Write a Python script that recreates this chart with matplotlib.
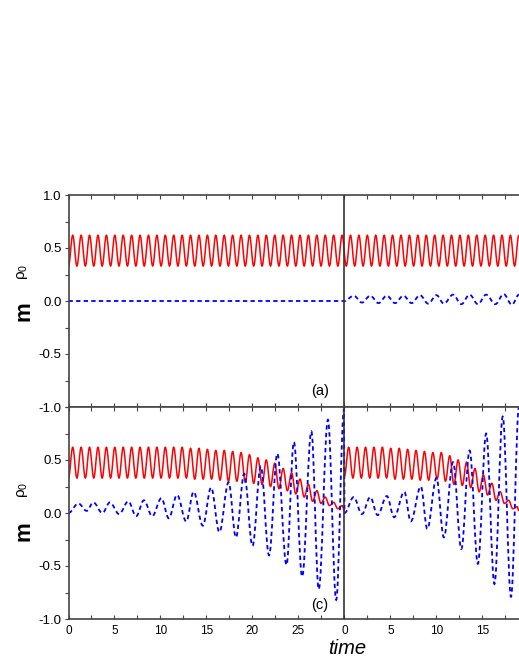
import numpy as np
import matplotlib.pyplot as plt
from matplotlib.path import Path
from matplotlib.patches import PathPatch
from matplotlib.ticker import FixedLocator, MultipleLocator

plt.rcParams['font.family'] = ['Liberation Sans', 'DejaVu Sans']
plt.rcParams['mathtext.fontset'] = 'custom'
plt.rcParams['mathtext.rm'] = 'Liberation Sans'
plt.rcParams['mathtext.it'] = 'Liberation Sans:italic'
plt.rcParams['axes.unicode_minus'] = False

T_END = 48.97      # right edge of the time axis (two runs glued at t=30)
T_JOIN = 30.0
HALF = 0.4575      # half period of the rho_0 oscillation

# x ticks: two time runs, 0..30 then 0..19
tick_pos = [0, 5, 10, 15, 20, 25, 30, 35, 40, 45]
tick_lab = ["0", "5", "10", "15", "20", "25", "0", "5", "10", "15"]

# ---- panel (a) ----
# rho_0: steady oscillation, troughs / peaks over the whole axis
a_red_troughs = [0.33] * 54
a_red_peaks = [0.62] * 54
# m: zero up to the join, then small wiggles
a_blue_t = [0.0, 30.0, 31.0, 31.9, 32.8, 33.7, 34.6, 35.5, 36.4, 37.3, 38.2, 39.1,
            40.0, 40.8, 41.8, 42.7, 43.6, 44.5, 45.4, 46.4, 47.3, 48.2, 48.97]
a_blue_v = [0.0, 0.0, 0.05, -0.015, 0.05, -0.02, 0.05, -0.02, 0.05, -0.02, 0.055, -0.025,
            0.055, -0.025, 0.06, -0.03, 0.06, -0.03, 0.06, -0.03, 0.065, -0.035, 0.06]

# ---- panel (c) ----
c_red_left_troughs = [0.33, 0.33, 0.33, 0.33, 0.33, 0.33, 0.33, 0.33, 0.33, 0.33, 0.33,
                      0.33, 0.33, 0.33, 0.33, 0.32, 0.32, 0.32, 0.31, 0.30, 0.30, 0.29,
                      0.28, 0.27, 0.25, 0.23, 0.21, 0.18, 0.15, 0.11, 0.09, 0.07, 0.04]
c_red_left_peaks = [0.62, 0.62, 0.62, 0.62, 0.62, 0.62, 0.62, 0.62, 0.62, 0.62, 0.62,
                    0.62, 0.62, 0.62, 0.61, 0.61, 0.60, 0.59, 0.59, 0.58, 0.57, 0.55,
                    0.52, 0.50, 0.47, 0.42, 0.38, 0.32, 0.27, 0.21, 0.15, 0.10, 0.07]
c_red_left_end = 0.02
c_red_right_troughs = [0.35, 0.33, 0.33, 0.33, 0.33, 0.33, 0.32, 0.32, 0.32, 0.31, 0.31,
                       0.32, 0.30, 0.27, 0.26, 0.24, 0.20, 0.17, 0.12, 0.09, 0.04]
c_red_right_peaks = [0.62, 0.62, 0.62, 0.62, 0.62, 0.61, 0.61, 0.60, 0.59, 0.58, 0.57,
                     0.57, 0.54, 0.50, 0.48, 0.42, 0.36, 0.28, 0.20, 0.12, 0.06]
c_red_right_end = 0.02

c_blue_t = [0.0, 1.07, 1.98, 2.7, 3.68, 4.5, 5.5, 6.5, 7.35, 8.2,
            9.1, 10.1, 10.9, 11.8, 12.8, 13.6, 14.6, 15.5, 16.4, 17.4,
            18.2, 19.1, 20.0, 20.9, 21.8, 22.7, 23.7, 24.5, 25.4, 26.4,
            27.2, 28.2, 29.1, 29.95,
            30.0, 31.0, 31.9, 32.8, 33.6, 34.6, 35.4, 36.5, 37.2, 38.3, 39.0,
            40.0, 40.8, 41.8, 42.7, 43.6, 44.5, 45.4, 46.3, 47.2, 48.1, 48.97]
c_blue_v = [0.0, 0.09, 0.02, 0.10, 0.0, 0.10, -0.01, 0.11, -0.03, 0.12,
            -0.03, 0.14, -0.05, 0.17, -0.08, 0.20, -0.12, 0.24, -0.18, 0.29,
            -0.23, 0.37, -0.31, 0.44, -0.40, 0.56, -0.49, 0.67, -0.60, 0.77,
            -0.72, 0.88, -0.82, 0.98,
            0.0, 0.15, -0.01, 0.15, -0.02, 0.16, -0.04, 0.20, -0.08, 0.25, -0.15,
            0.33, -0.23, 0.48, -0.34, 0.59, -0.48, 0.75, -0.67, 0.91, -0.79, 1.0]

RED = "#ff0000"
BLUE = "#0000ff"


def interleave(troughs, peaks, t0):
    vals = []
    for lo, hi in zip(troughs, peaks):
        vals += [lo, hi]
    t = list(t0 + HALF * np.arange(len(vals)))
    return t, vals


def smooth_path(t, v):
    # cubic bezier through the extrema, flat tangent at each one
    verts = [(t[0], v[0])]
    codes = [Path.MOVETO]
    for i in range(1, len(t)):
        dt = t[i] - t[i - 1]
        verts += [(t[i - 1] + 0.364 * dt, v[i - 1]), (t[i] - 0.364 * dt, v[i]), (t[i], v[i])]
        codes += [Path.CURVE4] * 3
    return Path(verts, codes)


def draw_red(ax, t, v):
    ax.add_patch(PathPatch(smooth_path(t, v), fill=False, ec=RED, lw=1.1))


def draw_blue(ax, t, v):
    ax.add_patch(PathPatch(smooth_path(t, v), fill=False, ec=BLUE, lw=1.3,
                           linestyle=(0, (2.4, 1.8))))


def style_axis(ax, yticks, show_x):
    ax.set_xlim(0, T_END)
    ax.set_ylim(-1, 1)
    ax.xaxis.set_major_locator(FixedLocator(tick_pos))
    ax.xaxis.set_minor_locator(MultipleLocator(2.5))
    ax.yaxis.set_major_locator(FixedLocator(yticks))
    ax.yaxis.set_minor_locator(MultipleLocator(0.25))
    ax.set_yticklabels(["%.1f" % y for y in yticks])
    if show_x:
        ax.set_xticklabels(tick_lab)
    else:
        ax.set_xticklabels([])
    ax.tick_params(axis="x", which="both", direction="in", top=True, bottom=True,
                   length=3, width=0.8, color="#444", labelsize=8.5, pad=4)
    ax.tick_params(axis="y", which="both", direction="out", left=True, right=False,
                   length=3, width=0.8, color="#444", labelsize=9.5, pad=2)
    for s in ["left", "top", "bottom"]:
        ax.spines[s].set_color("#444")
        ax.spines[s].set_linewidth(1.2)
    ax.spines["right"].set_visible(False)
    ax.axvline(T_JOIN, color="#333", lw=1.2, zorder=5)


W, H = 519, 672
fig = plt.figure(figsize=(W / 100, H / 100), dpi=100)
ax_a = fig.add_axes([68.5 / W, 1 - 407 / H, 1 - 68.5 / W, 212 / H])
ax_c = fig.add_axes([68.5 / W, 1 - 619 / H, 1 - 68.5 / W, 212 / H])

# panel (a)
t, v = interleave(a_red_troughs, a_red_peaks, 0.0)
draw_red(ax_a, t, v)
draw_blue(ax_a, a_blue_t, a_blue_v)
style_axis(ax_a, [-1.0, -0.5, 0.0, 0.5, 1.0], False)

# panel (c)
t, v = interleave(c_red_left_troughs, c_red_left_peaks, 0.0)
draw_red(ax_c, t + [T_JOIN], v + [c_red_left_end])
t, v = interleave(c_red_right_troughs, c_red_right_peaks, T_JOIN)
draw_red(ax_c, t + [T_END], v + [c_red_right_end])
draw_blue(ax_c, c_blue_t, c_blue_v)
style_axis(ax_c, [-1.0, -0.5, 0.0, 0.5], True)

# panel tags
fig.text(320 / W, 1 - 391 / H, "(a)", ha="center", va="center", fontsize=10.5)
fig.text(320 / W, 1 - 605 / H, "(c)", ha="center", va="center", fontsize=10.5)

# y labels: bold m with rho_0 above it, rotated
for ym, yr in [(311, 272), (531, 490)]:
    fig.text(24 / W, 1 - ym / H, "m", rotation=90, ha="center", va="center",
             fontsize=16, fontweight="bold")
    fig.text(23 / W, 1 - yr / H, r"ρ$_0$", rotation=90, ha="center", va="center",
             fontsize=11)

fig.text(347 / W, 1 - 648 / H, "time", ha="center", va="center", fontsize=14.5,
         style="italic")

fig.savefig("out.png", dpi=100)
